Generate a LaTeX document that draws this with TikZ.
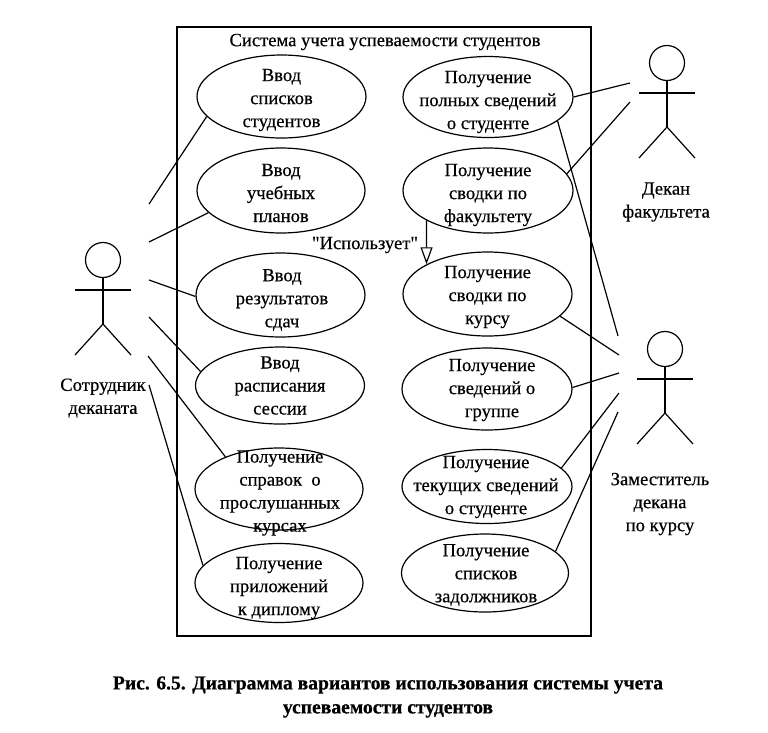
\documentclass[tikz,border=0pt]{standalone}
\usepackage{fontspec}
\newfontfamily\labelfont[FakeBold=0.5]{Liberation Serif}
\newfontfamily\capfont[FakeBold=0.6]{Liberation Serif Bold}
\usetikzlibrary{shapes.geometric,arrows.meta}
\tikzset{
	usecase/.style={draw,ellipse,line width=1.2pt,inner sep=0pt},
	label/.style={align=center,inner sep=0pt,font=\labelfont\fontsize{18.6}{23}\selectfont},
	link/.style={line width=1.2pt}
}
\begin{document}
\begin{tikzpicture}[x=1pt,y=-1pt]%use cases
	\useasboundingbox (0,0) rectangle (768,732);
	\draw[line width=2.2pt] (177,27) rectangle (591,636);
	\node[label] (title) at (385,42) {Система учета успеваемости студентов};
	%left and right column: name, centre, size, shift of the text, text
	\foreach \name/\x/\y/\w/\h/\dx/\dy/\txt in {
		u1/281.5/96.5/169/83/0/3.5/{Ввод\\списков\\студентов},
		u2/281/190.5/168/85/0/2.5/{Ввод\\учебных\\планов},
		u3/280.5/295/169/84/1.5/5/{Ввод\\результатов\\сдач},
		u4/280/385.5/169/77/0/0/{Ввод\\расписания\\сессии},
		u5/279/489/168/82/1/4/{Получение\\справок\ \ о\\прослушанных\\курсах},
		u6/279/583/168/79/0/5/{Получение\\приложений\\к диплому},
		v1/488/97/170/81/0/5/{Получение\\полных сведений\\о студенте},
		v2/488/190.5/170/85/0/4.5/{Получение\\сводки по\\факультету},
		v3/487.5/294/169/84/0/3/{Получение\\сводки по\\курсу},
		v4/487/389/170/82/5/1/{Получение\\сведений о\\группе},
		v5/487/486.5/170/74/-1/0.5/{Получение\\текущих сведений\\о студенте},
		v6/485/573/167/78/1/2/{Получение\\списков\\задолжников}}{
		\node[usecase,minimum width=\w pt,minimum height=\h pt] (\name) at (\x,\y) {};
		\node[label,xshift=\dx pt,yshift=-\dy pt] (\name text) at (\name) {\txt};
	}
	\draw[line width=1.2pt,-{Triangle[open,length=17pt,width=12pt]}] (v2.206)--(v3.154);
	\node[label] (uses) at (365,245) {"Использует"};
	%actors
	\foreach \name/\x/\y in {staff/103/260,dean/667/63,deputy/665/349}{
		\node[draw,circle,line width=1.2pt,minimum size=35pt,inner sep=0pt] (\name) at (\x,\y) {};
		\coordinate (\name hip) at (\x,\y+64);
		\draw[link] (\name.south)--(\name hip);
		\draw[link] (\x-28,\y+30)--(\x+28,\y+30);
		\draw[link] (\x-28,\y+95)--(\name hip)--(\x+28,\y+95);
	}
	\node[label] (stafftext) at (103,398) {Сотрудник\\деканата};
	\node[label] (deantext) at (666,202) {Декан\\факультета};
	\node[label] (deputytext) at (660,504) {Заместитель\\декана\\по курсу};
	%free ends near the actors
	\coordinate (a1) at (149,204);
	\coordinate (a2) at (149,242);
	\coordinate (a3) at (149,280);
	\coordinate (a4) at (149,317);
	\coordinate (a5) at (148,356);
	\coordinate (a6) at (149,385);
	\coordinate (b1) at (630,83);
	\coordinate (b2) at (630,102);
	\coordinate (c1) at (618,336);
	\coordinate (c2) at (619,355);
	\coordinate (c3) at (619,373);
	\coordinate (c4) at (619,393);
	\coordinate (c5) at (618,412);
	\foreach \from/\to in {u1.195/a1,u2.197/a2,u3.181/a3,u4.170/a4,u5.149/a5,u6.167/a6,
		v1.0/b1,v2.12/b2,v1.341/c1,v3.343/c2,v4.1/c3,v5.14/c4,v6.17/c5}
	\draw[link] (\from)--(\to);
	\node[align=center,inner sep=0pt,font=\capfont\fontsize{19.6}{24}\selectfont] (caption) at (388,697)
	{Рис. 6.5. Диаграмма вариантов использования системы учета\\успеваемости студентов};
\end{tikzpicture}
\end{document}
